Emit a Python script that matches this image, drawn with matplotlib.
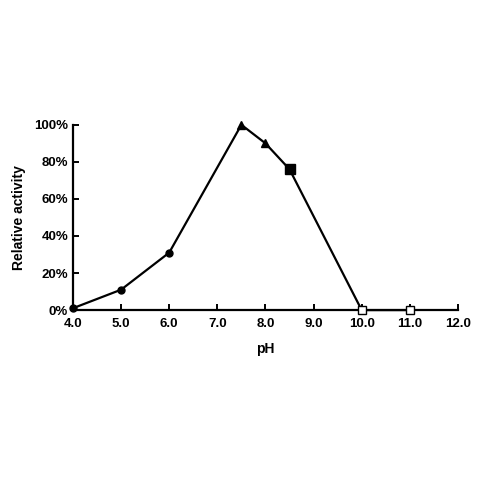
import matplotlib.pyplot as plt
from matplotlib.ticker import FuncFormatter

# Values
ph = [4.0, 5.0, 6.0, 7.5, 8.0, 8.5, 10.0, 11.0]
activity = [1, 11, 31, 100, 90, 76, 0, 0]

# marker groups (indices into ph / activity)
circle_idx = [0, 1, 2]
triangle_idx = [3, 4]
square_idx = [5]
open_square_idx = [6, 7]

x_ticks = [4.0, 5.0, 6.0, 7.0, 8.0, 9.0, 10.0, 11.0, 12.0]
y_ticks = [0, 20, 40, 60, 80, 100]

plt.rcParams["font.family"] = ["Liberation Sans", "DejaVu Sans"]

fig = plt.figure(figsize=(4.8, 4.8), dpi=100)
ax = fig.add_axes([0.152, 0.354, 0.802, 0.386])

ax.plot(ph, activity, color="black", lw=1.6, zorder=2, clip_on=False)
ax.plot([ph[i] for i in circle_idx], [activity[i] for i in circle_idx], "o",
        color="black", ms=5, zorder=3, clip_on=False)
ax.plot([ph[i] for i in triangle_idx], [activity[i] for i in triangle_idx], "^",
        color="black", ms=6, zorder=3, clip_on=False)
ax.plot([ph[i] for i in square_idx], [activity[i] for i in square_idx], "s",
        color="black", ms=6.5, zorder=3, clip_on=False)
ax.plot([ph[i] for i in open_square_idx], [activity[i] for i in open_square_idx], "s",
        mfc="white", mec="black", mew=1.0, ms=6, zorder=3, clip_on=False)

ax.set_xlim(4.0, 12.0)
ax.set_ylim(0, 100)
ax.set_xticks(x_ticks)
ax.set_xticklabels([f"{t:.1f}" for t in x_ticks])
ax.set_yticks(y_ticks)
ax.yaxis.set_major_formatter(FuncFormatter(lambda v, p: f"{v:.0f}%"))

for s in ["top", "right"]:
    ax.spines[s].set_visible(False)
for s in ["left", "bottom"]:
    ax.spines[s].set_linewidth(1.6)

ax.tick_params(direction="in", length=4, width=1.4, labelsize=9.5)
ax.tick_params(axis="x", pad=6)
for lab in ax.get_xticklabels() + ax.get_yticklabels():
    lab.set_fontweight("bold")

ax.set_xlabel("pH", fontsize=10, fontweight="bold", labelpad=8)
ax.set_ylabel("Relative activity", fontsize=10, fontweight="bold", labelpad=6)

fig.savefig("out.png", dpi=100, facecolor="white")
